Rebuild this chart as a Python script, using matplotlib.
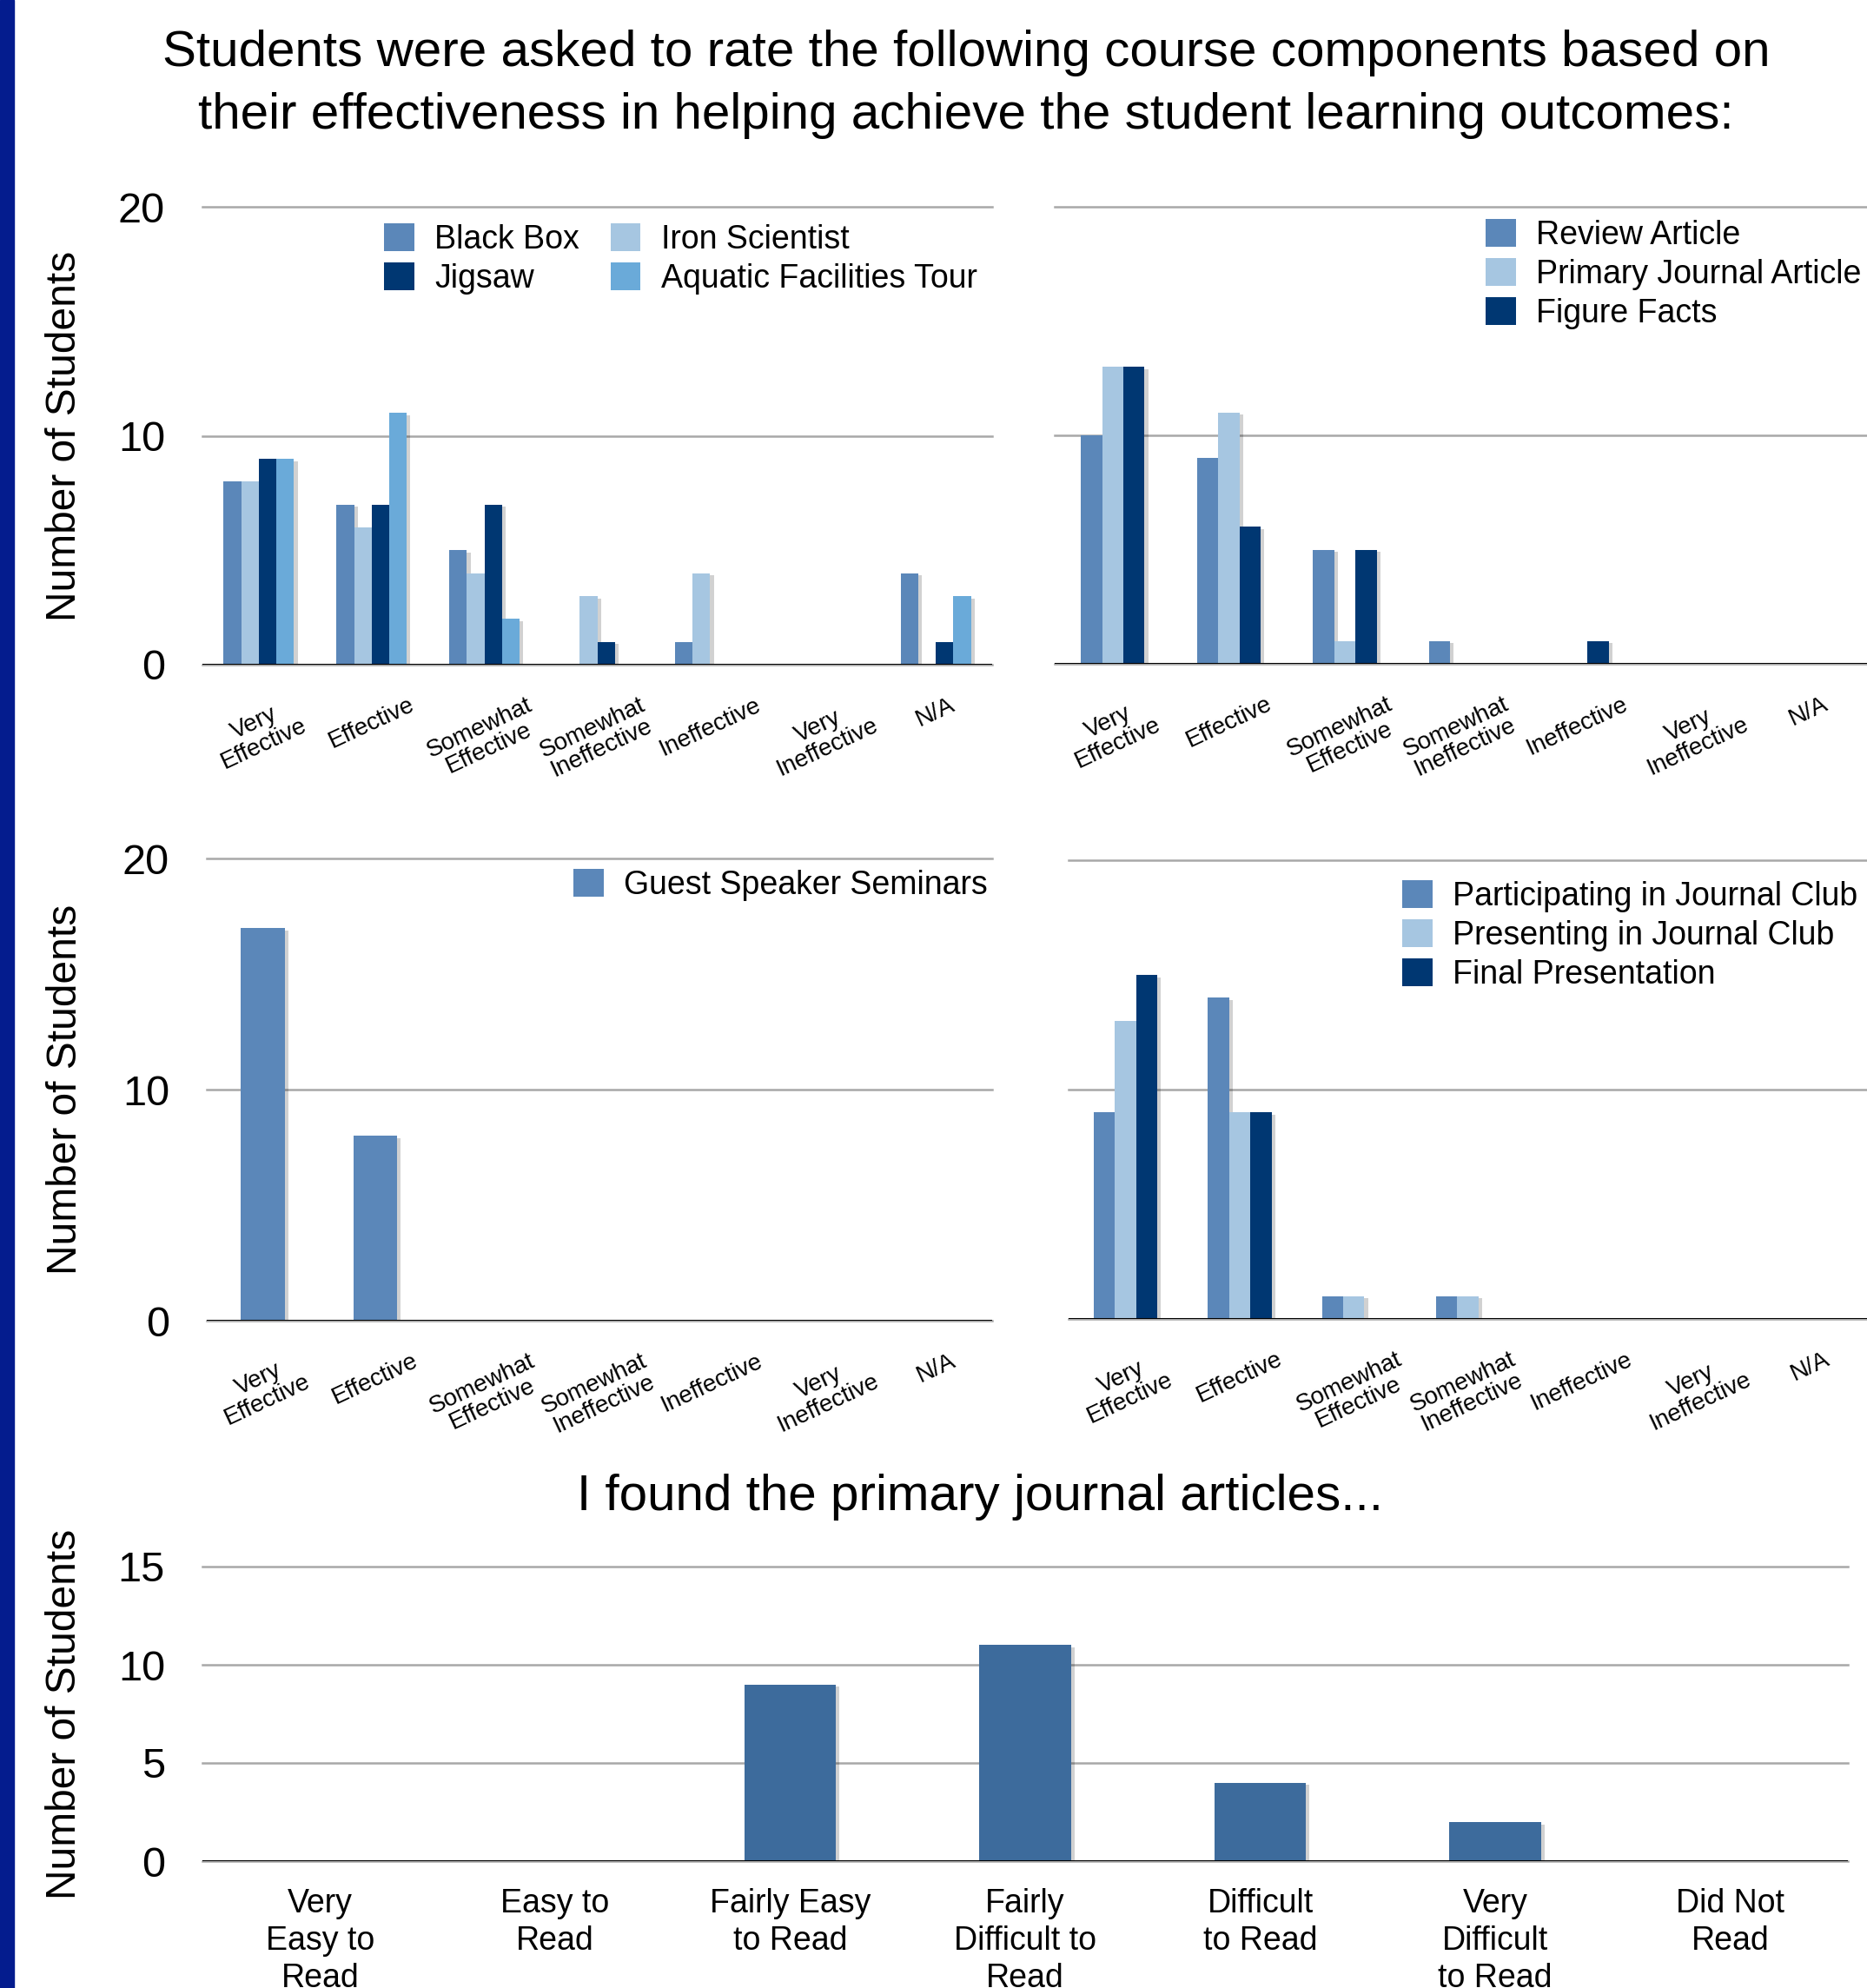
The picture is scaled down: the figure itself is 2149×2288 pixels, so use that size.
import matplotlib.pyplot as plt
import matplotlib.patheffects as pe
from matplotlib.patches import Patch, Rectangle

plt.rcParams['font.family'] = ['Liberation Sans', 'DejaVu Sans']

W, H = 2149, 2288


# DATA
rating_labels = ["Very\nEffective", "Effective", "Somewhat\nEffective",
                 "Somewhat\nIneffective", "Ineffective", "Very\nIneffective", "N/A"]

black_box = [8, 7, 5, 0, 1, 0, 4]
iron_scientist = [8, 6, 4, 3, 4, 0, 0]
jigsaw = [9, 7, 7, 1, 0, 0, 1]
aquatic_tour = [9, 11, 2, 0, 0, 0, 3]

review_article = [10, 9, 5, 1, 0, 0, 0]
primary_article = [13, 11, 1, 0, 0, 0, 0]
figure_facts = [13, 6, 5, 0, 1, 0, 0]

guest_speakers = [17, 8, 0, 0, 0, 0, 0]

participating_jc = [9, 14, 1, 1, 0, 0, 0]
presenting_jc = [13, 9, 1, 1, 0, 0, 0]
final_presentation = [15, 9, 0, 0, 0, 0, 0]

reading_labels = ["Very\nEasy to\nRead", "Easy to\nRead", "Fairly Easy\nto Read",
                  "Fairly\nDifficult to\nRead", "Difficult\nto Read",
                  "Very\nDifficult\nto Read", "Did Not\nRead"]
reading_counts = [0, 0, 9, 11, 4, 2, 0]


# COLOURS
MID = "#5b87b9"
LIGHT = "#a6c6e1"
DARK = "#003772"
SKY = "#6aaad9"
BOTTOM = "#3d6b9c"
GRID = "#a8a8a8"

shadow = [pe.SimplePatchShadow(offset=(3, -2), shadow_rgbFace="black", alpha=0.18), pe.Normal()]


fig = plt.figure(figsize=(W / 100, H / 100), dpi=100)

# blue stripe on the left edge
fig.patches.append(Rectangle((0, 0), 16 / W, 1, transform=fig.transFigure,
                             color="#041c8e", zorder=0))


def px_axes(x0, x1, ytop, ybot):
    return fig.add_axes([x0 / W, 1 - ybot / H, (x1 - x0) / W, (ybot - ytop) / H])


def style_axes(ax, ymax, yticks, show_ylabels, x0, x1):
    ax.set_xlim(-0.5, 6.5)
    ax.set_ylim(0, ymax)
    ax.set_yticks(yticks)
    for s in ax.spines.values():
        s.set_visible(False)
    ax.set_axisbelow(True)
    ax.yaxis.grid(True, color=GRID, lw=1.8)
    for line in ax.get_ygridlines():
        line.set_clip_on(False)
    ax.axhline(0, color="black", lw=2.2, zorder=5)
    ax.tick_params(length=0)
    if show_ylabels:
        ax.tick_params(axis="y", labelsize=35, pad=31)
        ax.set_ylabel("Number of Students", fontsize=34.5, va="center")
        ax.yaxis.set_label_coords((75 - x0) / (x1 - x0), 0.5)
    else:
        ax.set_yticklabels([])


def draw_groups(ax, series, colors, width):
    n = len(series)
    for i, (vals, col) in enumerate(zip(series, colors)):
        pos = [k + (i - (n - 1) / 2) * width for k in range(len(vals))]
        ax.bar(pos, vals, width, color=col, path_effects=shadow, zorder=3)


def rating_ticks(ax):
    ax.set_xticks(range(len(rating_labels)))
    ax.set_xticklabels(rating_labels, rotation=25, ha="center", va="top",
                       multialignment="center", fontsize=20, linespacing=1.0)
    ax.tick_params(axis="x", pad=24)


def add_legend(ax, names, colors, x, y, ncol=1):
    handles = [Patch(facecolor=c, edgecolor="none") for c in colors]
    ax.legend(handles, names, loc="upper left", bbox_to_anchor=(x / W, 1 - y / H),
              bbox_transform=fig.transFigure, frameon=False, fontsize=27,
              ncol=ncol, handlelength=0.93, handleheight=0.93, handletextpad=0.62,
              columnspacing=0.95, labelspacing=0.22, borderpad=0, borderaxespad=0)


# TITLE
fig.text(1112 / W, 1 - 97 / H,
         "Students were asked to rate the following course components based on\n"
         "their effectiveness in helping achieve the student learning outcomes:",
         ha="center", va="center", fontsize=42, linespacing=1.42)


# PANEL 1 - ACTIVITIES
x0, x1 = 233, 1142
ax1 = px_axes(x0, x1, 238, 765)
style_axes(ax1, 20, [0, 10, 20], True, x0, x1)
draw_groups(ax1, [black_box, iron_scientist, jigsaw, aquatic_tour],
            [MID, LIGHT, DARK, SKY], 0.156)
rating_ticks(ax1)
add_legend(ax1, ["Black Box", "Jigsaw", "Iron Scientist", "Aquatic Facilities Tour"],
           [MID, DARK, LIGHT, SKY], 442, 257, ncol=2)


# PANEL 2 - ARTICLES
x0, x1 = 1214, 2149
ax2 = px_axes(x0, x1, 238, 764)
style_axes(ax2, 20, [0, 10, 20], False, x0, x1)
draw_groups(ax2, [review_article, primary_article, figure_facts],
            [MID, LIGHT, DARK], 0.183)
rating_ticks(ax2)
add_legend(ax2, ["Review Article", "Primary Journal Article", "Figure Facts"],
           [MID, LIGHT, DARK], 1710, 252)


# PANEL 3 - GUEST SPEAKERS
x0, x1 = 238, 1142
ax3 = px_axes(x0, x1, 988, 1520)
style_axes(ax3, 20, [0, 10, 20], True, x0, x1)
draw_groups(ax3, [guest_speakers], [MID], 0.39)
rating_ticks(ax3)
add_legend(ax3, ["Guest Speaker Seminars"], [MID], 660, 1000)


# PANEL 4 - JOURNAL CLUB
x0, x1 = 1230, 2149
ax4 = px_axes(x0, x1, 990, 1518)
style_axes(ax4, 20, [0, 10, 20], False, x0, x1)
draw_groups(ax4, [participating_jc, presenting_jc, final_presentation],
            [MID, LIGHT, DARK], 0.186)
rating_ticks(ax4)
add_legend(ax4, ["Participating in Journal Club", "Presenting in Journal Club",
                 "Final Presentation"], [MID, LIGHT, DARK], 1614, 1013)


# PANEL 5 - READING DIFFICULTY
x0, x1 = 233, 2127
ax5 = px_axes(x0, x1, 1803, 2142)
style_axes(ax5, 15, [0, 5, 10, 15], True, x0, x1)
ax5.bar(range(len(reading_counts)), reading_counts, 0.39, color=BOTTOM,
        path_effects=shadow, zorder=3)
ax5.set_xticks(range(len(reading_labels)))
ax5.set_xticklabels(reading_labels, fontsize=27, linespacing=1.25)
ax5.tick_params(axis="x", pad=22)
fig.text(1128 / W, 1 - 1723 / H, "I found the primary journal articles...",
         ha="center", va="center", fontsize=42)


fig.savefig("out.png", dpi=100)
